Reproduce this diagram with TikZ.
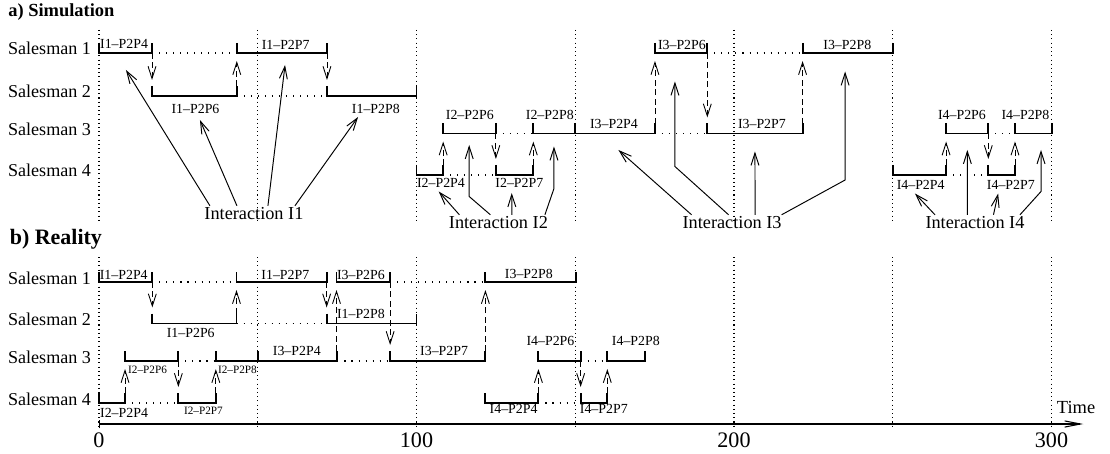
\documentclass[tikz,border=0pt]{standalone}
\usepackage{fontspec}
\setmainfont{Liberation Serif}
\usetikzlibrary{arrows.meta}
\tikzset{
  >={Straight Barb[length=7pt,width=4.5pt]},
  task/.style={line width=1.1pt},
  idle/.style={line width=0.6pt,dash pattern=on 0.6pt off 3.4pt},
  grid line/.style={line width=0.6pt,dash pattern=on 0.6pt off 1.8pt},
  msg/.style={->,line width=0.5pt,dash pattern=on 3.2pt off 2.2pt},
  hint/.style={->,line width=0.55pt},
  tasklabel/.style={font=\fontsize{7.9}{9}\selectfont,inner sep=0pt,anchor=base},
  tinylabel/.style={font=\fontsize{6.4}{8}\selectfont,inner sep=0pt,anchor=base},
  man/.style={font=\fontsize{10.3}{12}\selectfont,inner sep=0pt,anchor=base east},
  inter/.style={font=\fontsize{10.4}{12}\selectfont,inner sep=1pt,anchor=base},
  part/.style={font=\bfseries\fontsize{#1}{14}\selectfont,inner sep=0pt,anchor=base west},
}
\begin{document}
\begin{tikzpicture}[x=0.635mm,y=1cm]
  \useasboundingbox (-31.18,0) rectangle (318.43,9.06);
  \node[part=10.5] (pa) at (-28.66,8.73) {a) Simulation};
  \node[part=12.5] (pb) at (-28.2,4.16) {b) Reality};
  % time grid
  \foreach \t in {0,50,...,300}{
    \draw[grid line] (\t,8.46) -- (\t,4.62);
    \draw[grid line] (\t,3.92) -- (\t,0.5);
  }
  \foreach \y [count=\i] in {8.00,7.14,6.39,5.56}
    \node[man] (sa\i) at (-2.4,\y-0.04) {Salesman \i};
  \foreach \y [count=\i] in {3.42,2.59,1.84,1.00}
    \node[man] (sb\i) at (-2.4,\y-0.04) {Salesman \i};
  % tasks
  \foreach \a/\b/\y in {0/16.7/8.00,43.4/71.8/8.00,175.1/191.6/8.00,221.6/250/8.00,
      16.7/43.4/7.14,71.8/100/7.14,
      108.4/125/6.39,136.8/150/6.39,150/175.1/6.39,191.6/221.6/6.39,266.8/280.1/6.39,288.5/300.3/6.39,
      100/108.4/5.56,125/136.8/5.56,250.2/266.8/5.56,280.1/288.5/5.56,
      0/16.8/3.42,43.3/71.7/3.42,74.8/91.7/3.42,121.7/150.1/3.42,
      16.8/43.3/2.59,71.7/100/2.59,
      8.2/25/1.84,36.8/50/1.84,50/75.1/1.84,91.7/121.7/1.84,138.4/151.7/1.84,160.1/172/1.84,
      0/8.2/1.00,25/36.8/1.00,121.7/138.4/1.00,151.7/160.1/1.00}
    \draw[task] (\a,\y+0.2) -- (\a,\y) -- (\b,\y) -- (\b,\y+0.2);
  \foreach \a/\b/\y in {16.7/43.4/8.00,191.6/221.6/8.00,43.4/71.8/7.14,125/136.8/6.39,
      175.1/191.6/6.39,280.1/288.5/6.39,108.4/125/5.56,266.8/280.1/5.56,
      16.8/43.3/3.42,91.7/121.7/3.42,43.3/71.7/2.59,25/36.8/1.84,75.1/91.7/1.84,
      151.7/160.1/1.84,8.2/25/1.00,138.4/151.7/1.00}
    \draw[idle] (\a,\y) -- (\b,\y);
  % task names
  \foreach \t/\y/\txt [count=\i] in {7.9/8.08/I1--P2P4,58.8/8.07/I1--P2P7,30.4/6.79/I1--P2P6,
      87.2/6.79/I1--P2P8,107.7/5.31/I2--P2P4,132.4/5.31/I2--P2P7,116.8/6.67/I2--P2P6,
      142/6.66/I2--P2P8,162.2/6.49/I3--P2P4,208.8/6.49/I3--P2P7,183.6/8.06/I3--P2P6,
      235.7/8.07/I3--P2P8,258.8/5.27/I4--P2P4,287.2/5.26/I4--P2P7,271.8/6.66/I4--P2P6,
      291.8/6.66/I4--P2P8}
    \node[tasklabel] (ta\i) at (\t,\y) {\txt};
  \foreach \t/\y/\txt [count=\i] in {7.8/3.47/I1--P2P4,58.7/3.47/I1--P2P7,82.5/3.47/I3--P2P6,
      135.4/3.5/I3--P2P8,28.9/2.31/I1--P2P6,82.5/2.69/I1--P2P8,62.3/1.96/I3--P2P4,
      108.7/1.96/I3--P2P7,142.2/2.16/I4--P2P6,169.1/2.16/I4--P2P8,7.9/0.72/I2--P2P4,
      130.6/0.79/I4--P2P4,159/0.79/I4--P2P7}
    \node[tasklabel] (tb\i) at (\t,\y) {\txt};
  \foreach \t/\y/\txt [count=\i] in {15.3/1.6/I2--P2P6,43.6/1.6/I2--P2P8,32.9/0.77/I2--P2P7}
    \node[tinylabel] (tc\i) at (\t,\y) {\txt};
  % hand-overs
  \foreach \t/\f/\e in {16.7/8.00/7.46,43.4/7.34/7.84,71.8/8.00/7.46,108.4/5.76/6.23,
      125/6.39/5.88,136.8/5.76/6.23,175.1/6.59/7.84,191.6/8.00/6.71,221.6/6.59/7.84,
      266.8/5.76/6.23,280.1/6.39/5.88,288.5/5.76/6.23,
      16.8/3.42/2.91,43.3/2.79/3.26,71.7/3.42/2.91,74.8/2.04/3.26,91.7/3.42/2.16,
      121.7/2.04/3.26,8.2/1.20/1.68,25/1.84/1.32,36.8/1.20/1.68,138.4/1.20/1.68,
      151.7/1.84/1.32,160.1/1.20/1.68}
    \draw[msg] (\t,\f) -- (\t,\e);
  % interactions
  \node[inter] (i1) at (48.8,4.66) {Interaction I1};
  \node[inter] (i2) at (125.8,4.48) {Interaction I2};
  \node[inter] (i3) at (199.4,4.48) {Interaction I3};
  \node[inter] (i4) at (275.9,4.48) {Interaction I4};
  \foreach \s/\t/\y in {-0.88/8.5/7.66,-0.34/31.8/6.66,0.28/58.6/7.76,0.82/81.6/6.72}
    \draw[hint] ([xshift=\s cm]i1.north) -- (\t,\y);
  \draw[hint] ([xshift=-0.78cm]i2.north) -- (107,5.23);
  \draw[hint] ([xshift=-0.16cm]i2.north) -- (116.6,5.13) -- (116.6,6.16);
  \draw[hint] ([xshift=0.27cm]i2.north) -- (130,5.2);
  \draw[hint] ([xshift=0.93cm]i2.north) -- (143.3,5.29) -- (143.3,6.13);
  \draw[hint] ([xshift=-0.81cm]i3.north) -- (163.6,6.06);
  \draw[hint] ([xshift=-0.07cm]i3.north) -- (181.4,5.73) -- (181.4,7.43);
  \draw[hint] ([xshift=0.46cm]i3.north) -- (206.6,6.03);
  \draw[hint] ([xshift=0.99cm]i3.north) -- (235,5.46) -- (235,7.63);
  \draw[hint] ([xshift=-0.8cm]i4.north) -- (257,5.19);
  \draw[hint] ([xshift=-0.15cm]i4.north) -- (273.5,6.06);
  \draw[hint] ([xshift=0.37cm]i4.north) -- (283.2,5.19);
  \draw[hint] ([xshift=0.9cm]i4.north) -- (296.7,5.23) -- (296.7,6.06);
  % time axis
  \draw[{Bar[width=5pt]}-{Straight Barb[length=9pt,width=3.5pt]},line width=0.6pt] (0,0.58) -- (310,0.58);
  \node[font=\fontsize{10.5}{12}\selectfont,anchor=base west,inner sep=0pt] (time) at (301.6,0.8) {Time};
  \foreach \t in {0,100,200,300}
    \node[font=\fontsize{12.6}{14}\selectfont,anchor=base,inner sep=0pt] (tk\t) at (\t,0.12) {\t};
\end{tikzpicture}
\end{document}
